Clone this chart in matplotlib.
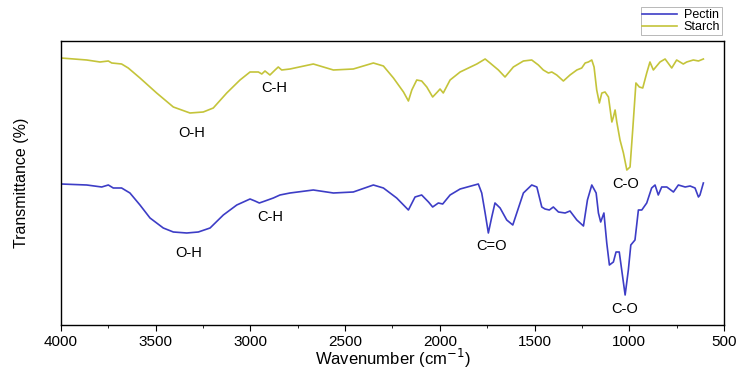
import numpy as np
import matplotlib
matplotlib.use('Agg')
import matplotlib.pyplot as plt
from matplotlib.ticker import MultipleLocator

matplotlib.rcParams['font.family'] = ['Liberation Sans', 'DejaVu Sans']

# starch spectrum (wavenumber, transmittance in arbitrary units, offset trace)
starch_wn = [4000, 3864, 3794, 3750, 3732, 3680, 3645, 3583, 3495, 3407, 3319, 3249, 3196, 3125,
             3055, 3002, 2958, 2940, 2923, 2897, 2870, 2853, 2835, 2791, 2668, 2562, 2457, 2351,
             2298, 2245, 2192, 2166, 2148, 2122, 2096, 2069, 2038, 2013, 1999, 1982, 1946, 1893,
             1805, 1761, 1735, 1691, 1656, 1612, 1559, 1515, 1480, 1454, 1427, 1409, 1383, 1348,
             1313, 1277, 1251, 1233, 1216, 1198, 1186, 1172, 1158, 1145, 1128, 1110, 1092, 1084,
             1075, 1066, 1049, 1031, 1013, 996, 982, 965, 947, 929, 908, 891, 873, 838, 811, 776,
             750, 715, 697, 662, 635, 609]
starch_t = [267, 265, 263, 264, 262, 261, 257, 247, 232, 218, 212, 213, 217, 232,
            245, 253, 253, 251, 254, 250, 255, 258, 255, 256, 261, 255, 256, 262,
            259, 247, 233, 224, 235, 245, 244, 238, 228, 233, 236, 232, 245, 253,
            261, 266, 262, 255, 248, 258, 264, 265, 260, 255, 252, 253, 250, 244,
            250, 255, 257, 262, 263, 265, 258, 235, 222, 232, 233, 228, 203, 208,
            215, 203, 185, 172, 155, 158, 195, 242, 238, 237, 252, 263, 255, 263, 266, 257,
            265, 261, 263, 265, 264, 266]

# pectin spectrum
pectin_wn = [4000, 3864, 3785, 3750, 3724, 3680, 3636, 3583, 3530, 3460, 3407, 3336, 3275, 3213,
             3143, 3072, 3002, 2976, 2953, 2923, 2879, 2844, 2791, 2668, 2562, 2457, 2351, 2298,
             2228, 2166, 2131, 2096, 2060, 2038, 2008, 1985, 1946, 1893, 1797, 1779, 1761, 1744,
             1726, 1709, 1682, 1647, 1615, 1594, 1559, 1515, 1488, 1462, 1445, 1422, 1401, 1374,
             1339, 1313, 1277, 1242, 1221, 1198, 1175, 1163, 1151, 1134, 1119, 1105, 1084, 1070,
             1053, 1040, 1022, 1005, 992, 970, 952, 934, 908, 882, 864, 847, 829, 802, 767, 741,
             705, 679, 653, 635, 627, 609]
pectin_t = [141, 140, 138, 140, 137, 137, 132, 120, 107, 97, 93, 92, 93, 97,
            110, 120, 126, 124, 122, 124, 127, 130, 132, 135, 132, 133, 140, 137,
            127, 115, 128, 130, 123, 118, 122, 121, 130, 136, 141, 132, 112, 92,
            108, 122, 117, 105, 100, 112, 132, 140, 138, 118, 116, 115, 118, 113,
            112, 114, 105, 99, 125, 140, 132, 112, 103, 112, 82, 60, 63, 73,
            73, 55, 30, 55, 80, 85, 115, 115, 122, 137, 140, 130, 138, 138, 133, 140,
            138, 139, 137, 128, 130, 142]

# band labels: (text, wavenumber, y)
starch_labels = [('O-H', 3311, 192), ('C-H', 2875, 237), ('C-O', 1022, 141)]
pectin_labels = [('O-H', 3328, 72), ('C-H', 2897, 108), ('C=O', 1726, 79), ('C-O', 1027, 16)]

fig = plt.figure(figsize=(7.4, 3.71), dpi=100)
ax = fig.add_axes([0.0824, 0.124, 0.896, 0.7655])

ax.plot(pectin_wn, pectin_t, color='#3d3dc6', lw=1.2, label='Pectin')
ax.plot(starch_wn, starch_t, color='#c4c43a', lw=1.2, label='Starch')

for txt, x, y in starch_labels + pectin_labels:
    ax.text(x, y, txt, ha='center', va='center', fontsize=10.5)

ax.set_xlim(4000, 500)
ax.set_ylim(0, 284)
ax.xaxis.set_major_locator(MultipleLocator(500))
ax.xaxis.set_minor_locator(MultipleLocator(250))
ax.set_yticks([])
ax.tick_params(axis='x', which='major', direction='out', length=4, pad=3, labelsize=11)
ax.tick_params(axis='x', which='minor', direction='out', length=2)
for s in ax.spines.values():
    s.set_linewidth(1.0)

ax.set_xlabel('Wavenumber (cm$^{-1}$)', fontsize=12, labelpad=-1)
ax.set_ylabel('Transmittance (%)', fontsize=11.5, labelpad=23)

leg = ax.legend(loc='lower right', bbox_to_anchor=(0.997, 1.021), fontsize=9, frameon=True,
                fancybox=False, edgecolor='#999999', borderpad=0.15, labelspacing=0.0,
                handlelength=2.8, handletextpad=0.5, borderaxespad=0.0)
leg.get_frame().set_linewidth(0.6)

fig.savefig('out.png', dpi=100)
